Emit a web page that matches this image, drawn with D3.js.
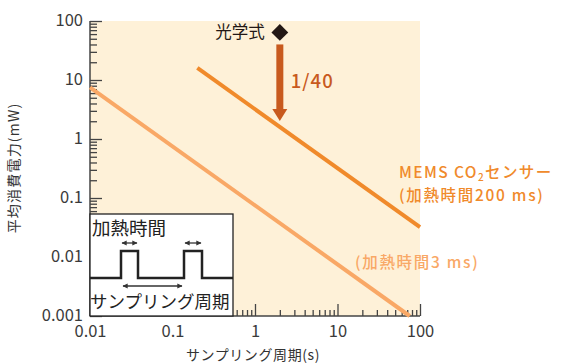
<!DOCTYPE html>
<html><head><meta charset="utf-8">
<script src="https://cdn.jsdelivr.net/npm/d3@7"></script>
<style>
body{margin:0;background:#fff;}
text{font-family:"Noto Sans CJK JP","Noto Sans",sans-serif;}
</style></head>
<body><svg id="c" width="562" height="363"></svg>
<script>
const xTicks = [0.01, 0.1, 1, 10, 100];
const xTickLabels = ["0.01", "0.1", "1", "10", "100"];
const yTicks = [0.001, 0.01, 0.1, 1, 10, 100];
const yTickLabels = ["0.001", "0.01", "0.1", "1", "10", "100"];
const memsPeriod = [0.2, 100];
const memsPower = [16, 0.032];
const shortPeriod = [0.01, 75];
const shortPower = [7.5, 0.001];
const opticalPeriod = [2];
const opticalPower = [64];
const reduction = "1/40";

const svg = d3.select("#c");
const L = 90, R = 420, T = 21, B = 316;
const x = d3.scaleLog().domain([0.01, 100]).range([L, R]);
const y = d3.scaleLog().domain([0.001, 100]).range([B, T]);

svg.append("rect").attr("x", L).attr("y", T).attr("width", R - L).attr("height", B - T).attr("fill", "#fef1d8");

const axisCol = "#444";
const minorX = [], minorY = [];
for (let e = -2; e < 2; e++) for (let m = 2; m <= 9; m++) minorX.push(m * Math.pow(10, e));
for (let e = -3; e < 2; e++) for (let m = 2; m <= 9; m++) minorY.push(m * Math.pow(10, e));

const gx = svg.append("g").attr("transform", `translate(0,${B})`);
gx.call(d3.axisBottom(x).tickValues(minorX).tickSizeInner(-6).tickSizeOuter(0).tickFormat(""));
gx.call(g => g.selectAll(".domain").remove());
const gx2 = svg.append("g").attr("transform", `translate(0,${B})`);
gx2.call(d3.axisBottom(x).tickValues(xTicks).tickSizeInner(-12).tickSizeOuter(0).tickPadding(18).tickFormat((d, i) => xTickLabels[i]));
gx2.selectAll(".domain").attr("d", `M${L},0H${R}`);
[gx, gx2].forEach(g => { g.selectAll("line").attr("stroke", axisCol).attr("stroke-width", 1.3); g.selectAll("path").attr("stroke", axisCol).attr("stroke-width", 1.5); });
gx2.selectAll("text").attr("font-family", "'Noto Sans',sans-serif").attr("font-size", 16.5).attr("fill", "#3a3a3a").attr("y", 9).attr("dy", "0.71em");

const gy = svg.append("g").attr("transform", `translate(${L},0)`);
gy.call(d3.axisLeft(y).tickValues(minorY).tickSizeInner(-7).tickSizeOuter(0).tickFormat(""));
gy.call(g => g.selectAll(".domain").remove());
const gy2 = svg.append("g").attr("transform", `translate(${L},0)`);
gy2.call(d3.axisLeft(y).tickValues(yTicks).tickSizeInner(-12).tickSizeOuter(0).tickPadding(8).tickFormat((d, i) => yTickLabels[i]));
gy2.selectAll(".domain").attr("d", `M0,${B}V${T}`);
[gy, gy2].forEach(g => { g.selectAll("line").attr("stroke", axisCol).attr("stroke-width", 1.3); g.selectAll("path").attr("stroke", axisCol).attr("stroke-width", 1.5); });
gy2.selectAll("text").attr("font-family", "'Noto Sans',sans-serif").attr("font-size", 16.5).attr("fill", "#3a3a3a").attr("x", -7).attr("dy", "0.3em");

// lines
const line = d3.line().x(d => x(d[0])).y(d => y(d[1]));
svg.append("path").datum(d3.zip(shortPeriod, shortPower)).attr("d", line)
  .attr("stroke", "#f9a866").attr("stroke-width", 4).attr("fill", "none");
svg.append("path").datum(d3.zip(memsPeriod, memsPower)).attr("d", line)
  .attr("stroke", "#f08a2b").attr("stroke-width", 4).attr("fill", "none");

// optical diamond and arrow
const ox = x(opticalPeriod[0]), oy = y(opticalPower[0]);
svg.append("path").attr("d", d3.symbol().type(d3.symbolDiamond2).size(180)()).attr("transform", `translate(${ox},${oy})`).attr("fill", "#231815");
svg.append("text").attr("x", ox - 15).attr("y", oy).attr("dy", "0.35em").attr("text-anchor", "end").attr("font-size", 16.5).attr("fill", "#231815").text("光学式");
const memsAt = memsPower[0] * memsPeriod[0] / opticalPeriod[0];
const ay0 = oy + 12, ay1 = y(memsAt) - 6;
const ac = "#c85a1e";
svg.append("rect").attr("x", ox - 3.5).attr("y", ay0).attr("width", 7).attr("height", ay1 - ay0 - 11).attr("fill", ac);
svg.append("path").attr("d", `M${ox - 7.5},${ay1 - 12}L${ox + 7.5},${ay1 - 12}L${ox},${ay1}Z`).attr("fill", ac);
svg.append("text").attr("x", ox + 11).attr("y", 82).attr("dy", "0.35em").attr("font-size", 18.5).attr("letter-spacing", 1).attr("font-weight", 500).attr("fill", ac).text(reduction);

// labels
const mc = "#f08a2b", sc = "#f9a866";
const t1 = svg.append("text").attr("x", 399).attr("y", 173).attr("dy", "0.35em").attr("font-size", 15.5).attr("letter-spacing", 1.4).attr("font-weight", 500).attr("fill", mc);
t1.append("tspan").text("MEMS CO");
t1.append("tspan").attr("font-size", 10).attr("dy", 3).text("2");
t1.append("tspan").attr("dy", -3).text("センサー");
svg.append("text").attr("x", 399).attr("y", 196).attr("dy", "0.35em").attr("font-size", 15.5).attr("letter-spacing", 1.7).attr("font-weight", 500).attr("fill", mc).text("(加熱時間200 ms)");
svg.append("text").attr("x", 355).attr("y", 263).attr("dy", "0.35em").attr("font-size", 15.5).attr("letter-spacing", 1.7).attr("font-weight", 500).attr("fill", sc).text("(加熱時間3 ms)");

// axis titles
svg.append("text").attr("x", 253).attr("y", 355).attr("dy", "0.35em").attr("text-anchor", "middle").attr("font-size", 14).attr("letter-spacing", 0.6).attr("fill", "#333").text("サンプリング周期(s)");
svg.append("text").attr("transform", "translate(14,168) rotate(-90)").attr("dy", "0.35em").attr("text-anchor", "middle").attr("font-size", 14).attr("letter-spacing", 1.2).attr("fill", "#333").text("平均消費電力(mW)");

// inset schematic
const ins = svg.append("g");
ins.append("rect").attr("x", L).attr("y", 214).attr("width", 143).attr("height", B - 214).attr("fill", "#fff").attr("stroke", "#222").attr("stroke-width", 1.3);
ins.append("text").attr("x", 92).attr("y", 229).attr("dy", "0.35em").attr("font-size", 18.5).attr("fill", "#222").text("加熱時間");
ins.append("path").attr("d", "M90,278H121V251H138V278H184V251H202V278H233").attr("fill", "none").attr("stroke", "#222").attr("stroke-width", 2.5);
const defs = svg.append("defs");
defs.append("marker").attr("id", "ah").attr("viewBox", "0 0 10 10").attr("refX", 9).attr("refY", 5).attr("markerWidth", 4).attr("markerHeight", 4).attr("orient", "auto-start-reverse")
  .append("path").attr("d", "M0,0L10,5L0,10Z").attr("fill", "#333");
[[121, 138, 243], [184, 202, 243], [122, 183, 286]].forEach(a => {
  ins.append("line").attr("x1", a[0] + 1).attr("x2", a[1] - 1).attr("y1", a[2]).attr("y2", a[2]).attr("stroke", "#333").attr("stroke-width", 1.3)
    .attr("marker-start", "url(#ah)").attr("marker-end", "url(#ah)");
});
ins.append("text").attr("x", 90).attr("y", 302).attr("dy", "0.35em").attr("font-size", 17.5).attr("fill", "#222").text("サンプリング周期");
</script></body></html>
